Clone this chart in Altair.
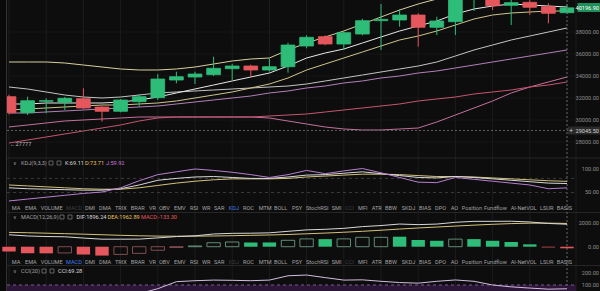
import altair as alt
import pandas as pd

# ---------------- data ----------------
idx = list(range(31))
opens = [32119, 30664, 31700, 31609, 31937, 31182, 30791, 31664, 32028, 33636, 33909, 34118, 34664, 34909, 34545,
         34845, 36727, 37573, 36909, 37818, 39030, 39091, 39545, 38427, 38936, 41200, 41300, 40427, 40700, 40300, 39755]
highs = [32300, 32119, 31973, 32100, 32882, 31250, 31910, 32364, 34182, 34391, 34391, 35755, 35100, 35030, 35609,
         37030, 37700, 37700, 38030, 39200, 40545, 40064, 39700, 39391, 41500, 42000, 41500, 41100, 40900, 40609, 40500]
lows = [30500, 30455, 30609, 30909, 31000, 29846, 30700, 31209, 31818, 33336, 33273, 34000, 33637, 33900, 34400,
        34300, 36518, 36800, 36364, 37700, 36364, 38482, 36664, 37727, 37727, 39909, 40000, 38636, 39545, 38791, 39650]
closes = [30664, 31755, 31760, 31973, 31091, 30791, 31818, 32119, 33727, 33937, 34182, 34700, 34909, 34545, 34845,
          36818, 37518, 36909, 37936, 39027, 39150, 39545, 38427, 39000, 41200, 41600, 40388, 40664, 40245, 39700, 40196.9]

boll_up = [35273, 35273, 35273, 35182, 35000, 34818, 34637, 34546, 34546, 34637, 34818, 35091, 35364, 35546, 35637,
           36364, 37000, 37546, 38091, 38727, 39364, 40000, 40546, 41000, 41454, 41818, 42091, 42273, 42364, 42454, 42545]
ma_fast = [31455, 31455, 31546, 31546, 31546, 31546, 31637, 31819, 32091, 32455, 32819, 33182, 33546, 33910, 34273,
           34909, 35637, 36091, 36455, 37000, 37546, 38091, 38546, 39000, 39636, 40091, 40363, 40545, 40454, 40363, 40273]
ma_mid = [30910, 31001, 31092, 31183, 31273, 31364, 31364, 31455, 31546, 31728, 32001, 32273, 32546, 32910, 33273,
          33819, 34546, 35091, 35637, 36182, 36727, 37273, 37636, 38091, 38636, 39182, 39545, 39727, 39818, 39909, 39909]
boll_mid = [33000, 32818, 32546, 32273, 32091, 32001, 32091, 32273, 32455, 32546, 32637, 32728, 32818, 32910, 33000,
            33091, 33273, 33546, 33819, 34091, 34364, 34637, 34909, 35273, 35818, 36364, 36818, 37273, 37636, 38000, 38364]
ma_slow = [30637, 30637, 30728, 30819, 30910, 31001, 31092, 31183, 31273, 31455, 31637, 31819, 32001, 32182, 32455,
           32637, 32910, 33091, 33364, 33546, 33819, 34000, 34273, 34455, 34728, 35000, 35273, 35546, 35818, 36091, 36364]
ma_long = [27910, 28183, 28455, 28728, 29001, 29273, 29546, 29910, 30183, 30273, 30273, 30273, 30273, 30273, 30364,
           30455, 30546, 30728, 30910, 31092, 31273, 31455, 31728, 31910, 32091, 32364, 32546, 32728, 33000, 33182, 33455]
boll_low = [29365, 29546, 29728, 29910, 30001, 30092, 30183, 30273, 30273, 30273, 30273, 30273, 30273, 30273, 30183,
            29910, 29637, 29365, 29183, 29092, 29092, 29183, 29273, 29819, 30455, 31092, 31728, 32455, 33000, 33455, 33910]

price_ticks = [28000, 30000, 32000, 34000, 36000, 38000]
low_mark = 27777
line_mark = 29045.5

k_vals = [60, 58, 57, 56, 55, 55, 58, 66, 76, 80, 83, 84, 82, 80, 80, 83, 87, 88, 91, 94, 90, 86, 82, 81, 84, 82,
          79, 76, 73, 70, 69.11]
d_vals = [66, 64, 62, 60, 58, 57, 57, 60, 65, 70, 74, 77, 79, 79, 79, 80, 83, 85, 87, 89, 89, 88, 86, 84, 84, 83,
          81, 79, 77, 75, 73.71]
j_vals = [32, 36, 40, 44, 48, 51, 60, 75, 88, 94, 100, 97, 93, 88, 82, 88, 97, 90, 96, 101, 92, 82, 72, 71, 82, 78,
          74, 70, 66, 58, 59.92]
kdj_ticks = [50, 100]
kdj_dash = [50, 80]

dif = [1010, 905, 860, 837, 730, 635, 635, 640, 745, 855, 920, 1073, 1128, 1140, 1170, 1300, 1420, 1470, 1550, 1695,
       1785, 1912, 1862, 1910, 2060, 2140, 2140, 2150, 2085, 1960, 1896.24]
dea = [1210, 1180, 1140, 1100, 1060, 1010, 960, 920, 895, 885, 890, 905, 930, 960, 990, 1030, 1090, 1150, 1220, 1300,
       1390, 1490, 1580, 1660, 1740, 1820, 1890, 1950, 1985, 1990, 1962.89]
hist = [-400, -550, -560, -525, -660, -750, -650, -560, -300, -60, 60, 337, 397, 360, 360, 540, 660, 640, 660, 790,
        790, 845, 565, 500, 640, 640, 500, 400, 200, -60, -133.30]
hist_filled = [1, 1, 1, 0, 1, 1, 0, 0, 0, 0, 0, 0, 0, 1, 1, 0, 0, 1, 0, 0, 0, 1, 1, 1, 0, 1, 1, 1, 1, 1, 1]
macd_ticks = [0, 2000]

cci = [20, 10, 0, 5, -10, -30, 0, 30, 70, 127, 135, 140, 138, 135, 140, 175, 181, 160, 140, 142, 130, 120, 115, 130,
       141, 130, 100, 85, 75, 66, 69.28]
cci_ticks = [100, 200]

toolbar_words = ["MA", "EMA", "VOLUME", "MACD", "DMI", "DMA", "TRIX", "BRAR", "VR", "OBV", "EMV", "RSI", "WR", "SAR",
                 "KDJ", "ROC", "MTM", "BOLL", "PSY", "StochRSI", "SMI", "CCI", "MFI", "ATR", "BBW", "SKDJ", "BIAS",
                 "DPO", "AO", "Position", "Fundflow", "AI-NetVOL", "LSUR", "BASIS"]

# ---------------- layout / style ----------------
FONT = "Roboto"
BG = "#0d0d0e"
UP, DN, UPH, DNH = "#2ebd78", "#e5575c", "#6a9a80", "#8e5456"
TXT = "#a3a3a3"
AX = "#8d8d8d"
tool_x = [11.7, 25, 40.7, 66, 85, 99, 115, 130.7, 149, 159, 174, 190, 202, 214, 228.7, 243, 258.7, 274, 292, 306,
          331.7, 345, 358, 371.7, 385, 401.7, 419, 435, 450.7, 461.7, 484, 510.7, 540, 556.7]

XS = alt.Scale(domain=[-0.484, 31.774], range=[0, 600], nice=False, zero=False)
PS = alt.Scale(domain=[26637, 40909], range=[157, 0], nice=False, zero=False)
KS = alt.Scale(domain=[23.4, 123.4], range=[205, 158], nice=False, zero=False)
MS = alt.Scale(domain=[-953, 2844], range=[258, 213], nice=False, zero=False)
CS = alt.Scale(domain=[51.2, 254.5], range=[291, 266], nice=False, zero=False)
COL = alt.Scale(domain=["up", "down", "up_h", "down_h"], range=[UP, DN, UPH, DNH])

ONE = pd.DataFrame({"a": [0]})


def label(s, x, y, color=TXT, size=5.6, align="left"):
    return alt.Chart(ONE).mark_text(text=s, align=align, baseline="middle", fontSize=size, font=FONT,
                                    color=color).encode(x=alt.value(x), y=alt.value(y))


def box(x1, x2, y1, y2, fill=None, stroke=None, sw=1.0):
    kw = {}
    if fill is not None:
        kw["fill"] = fill
    else:
        kw["fillOpacity"] = 0
    if stroke is not None:
        kw["stroke"] = stroke
        kw["strokeWidth"] = sw
    return alt.Chart(ONE).mark_rect(**kw).encode(x=alt.value(x1), x2=alt.value(x2), y=alt.value(y1),
                                                 y2=alt.value(y2))


def hrule(x1, x2, y, color, sw=1.0):
    return alt.Chart(ONE).mark_rule(color=color, strokeWidth=sw).encode(x=alt.value(x1), x2=alt.value(x2),
                                                                         y=alt.value(y))


def vrule(x, y1, y2, color, sw=1.0):
    return alt.Chart(ONE).mark_rule(color=color, strokeWidth=sw).encode(x=alt.value(x), y=alt.value(y1),
                                                                         y2=alt.value(y2))


def axis_text(df, scale, color=AX):
    return alt.Chart(df).mark_text(align="right", baseline="middle", fontSize=5.6, font=FONT, color=color).encode(
        x=alt.value(599), y=alt.Y("v:Q", scale=scale, axis=None), text="t:N")


# ---------------- frames ----------------
cdf = pd.DataFrame({"i": idx, "open": opens, "high": highs, "low": lows, "close": closes})
cdf["dir"] = ["up" if c >= o else "down" for o, c in zip(opens, closes)]
cdf["xl"] = cdf["i"] - 0.37
cdf["xr"] = cdf["i"] + 0.37

hdf = pd.DataFrame({"i": idx, "h": hist, "zero": 0})
hdf["kind"] = [("up" if h >= 0 else "down") + ("" if f else "_h") for h, f in zip(hist, hist_filled)]
hdf["xl"] = hdf["i"] - 0.36
hdf["xr"] = hdf["i"] + 0.36

layers = []

layers.append(vrule(576, 0, 291, "#1c1c1c"))

# vertical grid
gdf = pd.DataFrame({"i": idx[0:29:2]})
layers.append(alt.Chart(gdf).mark_rule(color="#1c1c1c", strokeWidth=1).encode(
    x=alt.X("i:Q", scale=XS, axis=None), y=alt.value(0), y2=alt.value(291)))

# horizontal price grid
tdf = pd.DataFrame({"v": price_ticks, "t": [f"{v:.2f}" for v in price_ticks]})
layers.append(alt.Chart(tdf).mark_rule(color="#171717", strokeWidth=1).encode(
    x=alt.value(7), x2=alt.value(576), y=alt.Y("v:Q", scale=PS, axis=None)))

# panel separators
for yy in (158, 212.5, 265.5):
    layers.append(hrule(7, 600, yy, "#262626"))

# price lines
price_lines = [(boll_low, "#c4709c"), (ma_long, "#c5566e"), (ma_slow, "#b47fb8"), (boll_mid, "#c4c4c4"),
               (ma_mid, "#cfc48a"), (ma_fast, "#e8e8e8"), (boll_up, "#d8cf9c")]
for vals, colr in price_lines:
    ldf = pd.DataFrame({"i": idx, "v": vals})
    layers.append(alt.Chart(ldf).mark_line(color=colr, strokeWidth=1).encode(
        x=alt.X("i:Q", scale=XS, axis=None), y=alt.Y("v:Q", scale=PS, axis=None)))

# dashed price marker line
mdf = pd.DataFrame({"v": [line_mark], "t": [f"{line_mark:.2f}"]})
layers.append(alt.Chart(mdf).mark_rule(color="#5c5c5c", strokeWidth=1, strokeDash=[2, 2]).encode(
    x=alt.value(7), x2=alt.value(568), y=alt.Y("v:Q", scale=PS, axis=None)))

# candles
layers.append(alt.Chart(cdf).mark_rule(strokeWidth=1).encode(
    x=alt.X("i:Q", scale=XS, axis=None), y=alt.Y("low:Q", scale=PS, axis=None), y2="high:Q",
    color=alt.Color("dir:N", scale=COL, legend=None)))
layers.append(alt.Chart(cdf).mark_rect(strokeWidth=0.8).encode(
    x=alt.X("xl:Q", scale=XS, axis=None), x2="xr:Q", y=alt.Y("open:Q", scale=PS, axis=None), y2="close:Q",
    color=alt.Color("dir:N", scale=COL, legend=None), stroke=alt.Stroke("dir:N", scale=COL, legend=None)))

# current candle dashed line
layers.append(alt.Chart(pd.DataFrame({"i": [idx[-1]]})).mark_rule(
    color="#6a6a6a", strokeWidth=1, strokeDash=[2, 2]).encode(
    x=alt.X("i:Q", scale=XS, axis=None), y=alt.value(0), y2=alt.value(291)))

# left strip and border (covers the clipped first candle)
layers.append(box(0, 6.5, 0, 291, fill="#090909"))
layers.append(vrule(6.5, 0, 291, "#333333"))

# price axis labels
layers.append(axis_text(tdf, PS))

# last price tag
lp = pd.DataFrame({"v": [closes[-1]], "t": [f"{closes[-1]:.2f}"]})
layers.append(box(577.5, 600, 3, 12, fill="#1f8f5a"))
layers.append(alt.Chart(lp).mark_text(align="right", baseline="middle", fontSize=5.6, font=FONT,
                                      color="#ffffff").encode(x=alt.value(599), y=alt.value(7.5), text="t:N"))

# marker tag
layers.append(box(568, 600, 126.5, 134.5, fill="#2a2a2a"))
layers.append(label("+", 571, 130.5, color="#cfcfcf", size=6.5, align="center"))
layers.append(axis_text(mdf, PS, color="#d0d0d0"))

# low marker
lm = pd.DataFrame({"v": [low_mark], "t": [f"\u2190{low_mark}"]})
layers.append(alt.Chart(lm).mark_text(align="left", baseline="middle", fontSize=5.6, font=FONT,
                                      color="#bdbdbd").encode(
    x=alt.value(10), y=alt.Y("v:Q", scale=PS, axis=None), text="t:N"))

# ---------------- KDJ panel ----------------
kd = pd.DataFrame({"v": kdj_dash})
layers.append(alt.Chart(kd).mark_rule(color="#3a3a3a", strokeWidth=1, strokeDash=[3, 3]).encode(
    x=alt.value(7), x2=alt.value(576), y=alt.Y("v:Q", scale=KS, axis=None)))
for vals, colr in [(d_vals, "#d4c27a"), (k_vals, "#d8d8d8"), (j_vals, "#b77fcf")]:
    ldf = pd.DataFrame({"i": idx, "v": vals})
    layers.append(alt.Chart(ldf).mark_line(color=colr, strokeWidth=1).encode(
        x=alt.X("i:Q", scale=XS, axis=None), y=alt.Y("v:Q", scale=KS, axis=None)))
kt = pd.DataFrame({"v": kdj_ticks, "t": [f"{v:.2f}" for v in kdj_ticks]})
layers.append(axis_text(kt, KS))

layers += [label("\u2228", 13, 163, size=5), label("KDJ(9,3,3)", 21, 163),
           box(49, 53, 161, 165, stroke="#777777", sw=0.8), box(57, 61, 161, 165, stroke="#777777", sw=0.8),
           label(f"K:{k_vals[-1]:.2f}", 65, 163, color="#d8d8d8"),
           label(f"D:{d_vals[-1]:.2f}", 85, 163, color="#e6c45a"),
           label(f"J:{j_vals[-1]:.2f}", 106, 163, color="#c77ad3")]


def toolbar(y, active, dim):
    out = []
    for w, x in zip(toolbar_words, tool_x):
        c = "#3f7ee8" if w == active else ("#3e3e3e" if w in dim else TXT)
        out.append(label(w, x, y, color=c, size=5.6))
    return out


layers += toolbar(208, "KDJ", ("MACD", "CCI"))

# ---------------- MACD panel ----------------
layers.append(alt.Chart(hdf[[f == 1 for f in hist_filled]]).mark_rect().encode(
    x=alt.X("xl:Q", scale=XS, axis=None), x2="xr:Q", y=alt.Y("h:Q", scale=MS, axis=None), y2="zero:Q",
    color=alt.Color("kind:N", scale=COL, legend=None)))
layers.append(alt.Chart(hdf[[f == 0 for f in hist_filled]]).mark_rect(filled=False, strokeWidth=0.9).encode(
    x=alt.X("xl:Q", scale=XS, axis=None), x2="xr:Q", y=alt.Y("h:Q", scale=MS, axis=None), y2="zero:Q",
    color=alt.Color("kind:N", scale=COL, legend=None)))
for vals, colr in [(dea, "#d4c27a"), (dif, "#d8d8d8")]:
    ldf = pd.DataFrame({"i": idx, "v": vals})
    layers.append(alt.Chart(ldf).mark_line(color=colr, strokeWidth=1).encode(
        x=alt.X("i:Q", scale=XS, axis=None), y=alt.Y("v:Q", scale=MS, axis=None)))
mtk = pd.DataFrame({"v": macd_ticks, "t": [f"{v:.2f}" for v in macd_ticks]})
layers.append(axis_text(mtk, MS))

layers += [label("\u2228", 13, 217, size=5), label("MACD(12,26,9)", 21, 217),
           box(60, 64, 215, 219, stroke="#777777", sw=0.8), box(68, 72, 215, 219, stroke="#777777", sw=0.8),
           label(f"DIF:{dif[-1]:.2f}", 76.5, 217, color="#d8d8d8"),
           label(f"DEA:{dea[-1]:.2f}", 107.5, 217, color="#e6c45a"),
           label(f"MACD:{hist[-1]:.2f}", 141, 217, color="#e5575c")]

layers += toolbar(262, "MACD", ("KDJ", "CCI"))

# ---------------- CCI panel ----------------
band = pd.DataFrame({"a": [100], "b": [-100]})
layers.append(alt.Chart(band).mark_rect(fill="#2c1638").encode(
    x=alt.value(7), x2=alt.value(576), y=alt.Y("a:Q", scale=CS, axis=None), y2="b:Q"))
layers.append(alt.Chart(pd.DataFrame({"v": [100]})).mark_rule(color="#7a5a8c", strokeWidth=1,
                                                               strokeDash=[3, 3]).encode(
    x=alt.value(7), x2=alt.value(576), y=alt.Y("v:Q", scale=CS, axis=None)))
layers.append(alt.Chart(pd.DataFrame({"i": idx, "v": cci})).mark_line(color="#d2bde0", strokeWidth=1).encode(
    x=alt.X("i:Q", scale=XS, axis=None), y=alt.Y("v:Q", scale=CS, axis=None)))
ctk = pd.DataFrame({"v": cci_ticks, "t": [f"{v:.2f}" for v in cci_ticks]})
layers.append(axis_text(ctk, CS))

layers += [label("\u2228", 13, 271, size=5), label("CCI(20)", 21, 271),
           box(42, 46, 269, 273, stroke="#777777", sw=0.8), box(50, 54, 269, 273, stroke="#777777", sw=0.8),
           label(f"CCI:{cci[-1]:.2f}", 58, 271, color="#d8d8d8")]

chart = alt.layer(*layers).resolve_scale(y="independent").properties(
    width=600, height=291, padding=0, autosize=alt.AutoSizeParams(type="none"), background=BG
).configure_view(stroke=None)

chart.save("out.html", embed_options={"renderer": "svg", "actions": False})
